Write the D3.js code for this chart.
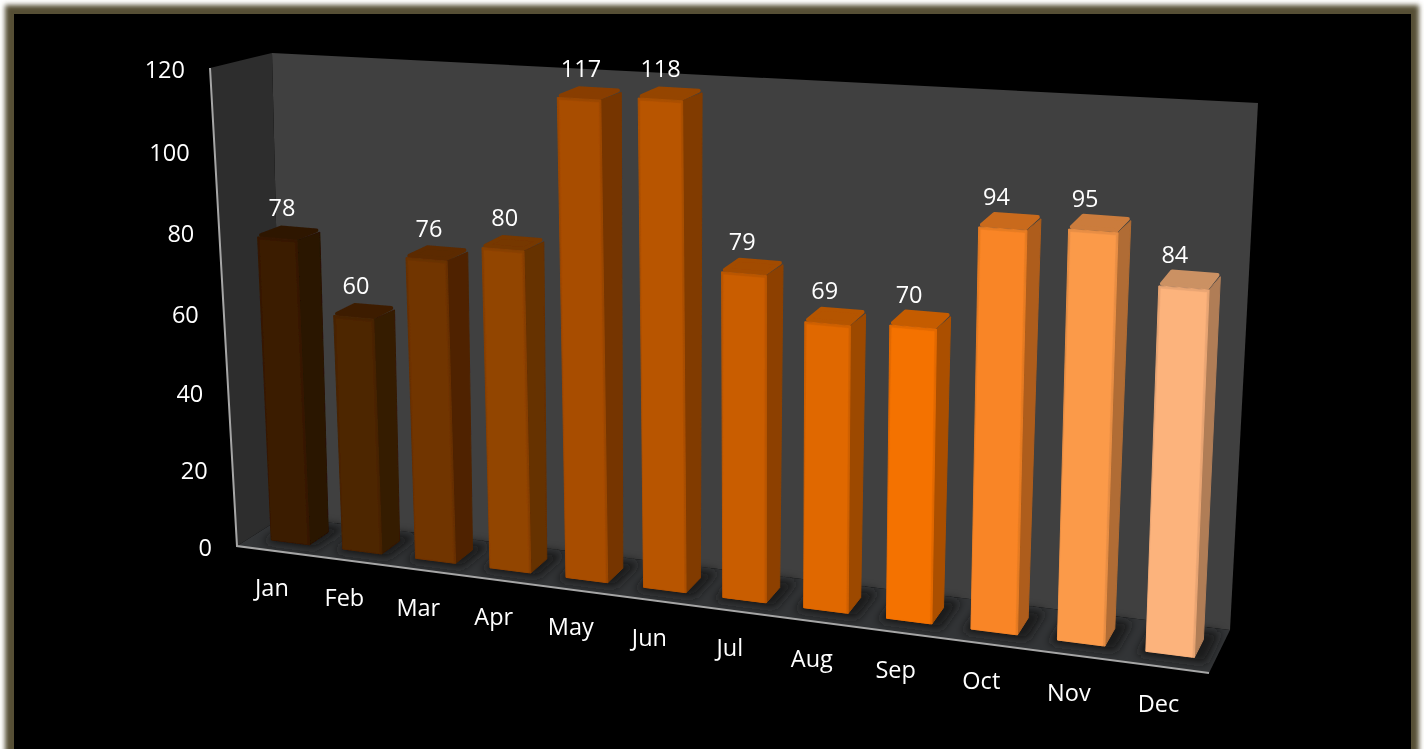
<!DOCTYPE html>
<html>
<head>
<meta charset="utf-8">
<title>Monthly bars</title>
<script src="https://cdn.jsdelivr.net/npm/d3@7"></script>
<style>
html, body { margin: 0; padding: 0; background: #fff; overflow: hidden; }
text { font-family: "Open Sans", "Noto Sans", sans-serif; font-size: 23.5px; fill: #fff; }
</style>
</head>
<body>
<svg id="chart" width="1424" height="749"></svg>
<script>
const categories = ["Jan", "Feb", "Mar", "Apr", "May", "Jun", "Jul", "Aug", "Sep", "Oct", "Nov", "Dec"];
const values = [78, 60, 76, 80, 117, 118, 79, 69, 70, 94, 95, 84];
const tickLabels = [0, 20, 40, 60, 80, 100, 120];
const barColors = ["#3a1b02", "#4d2502", "#713403", "#924403", "#a84d04", "#b85503", "#c95d05", "#e06805", "#f47206", "#f98526", "#fb9a4a", "#fcb37c"];

// corners of the box on screen, order is top-left, top-right, bottom-right, bottom-left
const frontPlane = [[210, 68], [1229, 133], [1209, 673], [237, 546]];
const backPlane = [[272, 53], [1258, 103], [1230, 630], [283, 517]];

// unit square to quad
function quadMap(q) {
	const [p0, p1, p2, p3] = q;
	const dx1 = p1[0] - p2[0], dx2 = p3[0] - p2[0], sx = p0[0] - p1[0] + p2[0] - p3[0];
	const dy1 = p1[1] - p2[1], dy2 = p3[1] - p2[1], sy = p0[1] - p1[1] + p2[1] - p3[1];
	const det = dx1 * dy2 - dx2 * dy1;
	const g = (sx * dy2 - dx2 * sy) / det;
	const h = (dx1 * sy - sx * dy1) / det;
	const a = p1[0] - p0[0] + g * p1[0], b = p3[0] - p0[0] + h * p3[0], c = p0[0];
	const d = p1[1] - p0[1] + g * p1[1], e = p3[1] - p0[1] + h * p3[1], f = p0[1];
	return function(u, v) {
		const w = g * u + h * v + 1;
		return [(a * u + b * v + c) / w, (d * u + e * v + f) / w];
	};
}

const frontMap = quadMap(frontPlane);
const backMap = quadMap(backPlane);

const xScale = d3.scaleBand().domain(categories).range([0.005, 1]).paddingInner(0.46).paddingOuter(0.23);
const yScale = d3.scaleLinear().domain([0, 120]).range([1, 0]);
const depth = { front: 0.3, back: 0.72 };

// u across, value up, d from front to back wall
function project(u, value, d) {
	const a = frontMap(u, yScale(value));
	const b = backMap(u, yScale(value));
	return [a[0] + (b[0] - a[0]) * d, a[1] + (b[1] - a[1]) * d];
}

const poly = function(pts) { return pts.map(function(p) { return p[0].toFixed(1) + "," + p[1].toFixed(1); }).join(" "); };
const midBand = function(c) { return xScale(c) + xScale.bandwidth() / 2; };

const svg = d3.select("#chart");
const defs = svg.append("defs");
defs.append("filter").attr("id", "edge").attr("x", "-5%").attr("y", "-5%").attr("width", "110%").attr("height", "110%")
	.append("feGaussianBlur").attr("stdDeviation", 2.6);
defs.append("filter").attr("id", "soft").attr("x", "-40%").attr("y", "-40%").attr("width", "180%").attr("height", "180%")
	.append("feGaussianBlur").attr("stdDeviation", 5);
defs.append("filter").attr("id", "tiny").attr("x", "-5%").attr("y", "-5%").attr("width", "110%").attr("height", "110%")
	.append("feGaussianBlur").attr("stdDeviation", 0.5);

// frame
svg.append("rect").attr("x", 5).attr("y", 5).attr("width", 1414).attr("height", 800).attr("fill", "#575034").attr("filter", "url(#edge)");
svg.append("rect").attr("x", 14).attr("y", 14).attr("width", 1397).attr("height", 740).attr("fill", "#000");

// walls and floor
const walls = svg.append("g");
walls.append("polygon").attr("fill", "#404040")
	.attr("points", poly([project(0, 120, 1), project(1, 120, 1), project(1, 0, 1), project(0, 0, 1)]));
walls.append("polygon").attr("fill", "#2d2d2d")
	.attr("points", poly([project(0, 120, 0), project(0, 120, 1), project(0, 0, 1), project(0, 0, 0)]));
walls.append("polygon").attr("fill", "#333537")
	.attr("points", poly([project(0, 0, 0), project(0, 0, 1), project(1, 0, 1), project(1, 0, 0)]));

// soft shadows on the floor round each bar
const shadows = walls.append("g").attr("filter", "url(#soft)");
categories.forEach(function(c) {
	const u0 = xScale(c) - 0.006, u1 = xScale(c) + xScale.bandwidth() + 0.012;
	shadows.append("polygon").attr("fill", "#191919").attr("opacity", 0.9)
		.attr("points", poly([project(u0, 0, 0.2), project(u0, 0, 0.92), project(u1, 0, 0.92), project(u1, 0, 0.2)]));
});

// axis lines
const axisLine = d3.line();
svg.append("path").attr("fill", "none").attr("stroke", "#a6a6a6").attr("stroke-width", 2)
	.attr("d", axisLine([project(0, 120, 0), project(0, 0, 0), project(1, 0, 0)]));

// bars, the top gets thick round strokes so the corners look bevelled
const bars = svg.append("g").attr("filter", "url(#tiny)");
categories.forEach(function(c, i) {
	const v = values[i];
	const u0 = xScale(c), u1 = u0 + xScale.bandwidth();
	const d0 = depth.front, d1 = depth.back;
	const col = d3.color(barColors[i]);
	const g = bars.append("g").attr("stroke-linejoin", "round");
	const face = function(pts, fill, sw) {
		g.append("polygon").attr("points", poly(pts)).attr("fill", fill).attr("stroke", fill).attr("stroke-width", sw);
	};
	const du = 0.002, dd = 0.03, vb = 0.3;
	face([project(u0 + du, v, d0 + dd), project(u0 + du, v, d1 - dd), project(u1 - du, v, d1 - dd), project(u1 - du, v, d0 + dd)], col.darker(0.6), 4);
	face([project(u1, 0, d0), project(u1, 0, d1), project(u1, v - vb * 2, d1), project(u1, v - vb, d0)], col.darker(1.0), 1);
	face([project(u0, 0, d0), project(u1, 0, d0), project(u1, v - vb, d0), project(u0, v - vb, d0)], col.darker(0.22), 1);
	face([project(u0, 0, d0), project(u1 - du, 0, d0), project(u1 - du, v - vb * 3, d0), project(u0 + du, v - vb * 3, d0)], col, 0.5);
});

// value axis labels
svg.append("g").selectAll("text")
	.data(tickLabels)
	.enter().append("text")
	.attr("text-anchor", "end")
	.attr("dy", "0.35em")
	.attr("x", function(d) { return project(0, d, 0)[0] - 25; })
	.attr("y", function(d) { return project(0, d, 0)[1] + 2; })
	.text(function(d) { return d; });

// month labels
svg.append("g").selectAll("text")
	.data(categories)
	.enter().append("text")
	.attr("text-anchor", "middle")
	.attr("dy", "0.35em")
	.attr("x", function(d) { return project(midBand(d), 0, 0)[0] - 5; })
	.attr("y", function(d) { return project(midBand(d), 0, 0)[1] + 37; })
	.text(function(d) { return d; });

// data labels
svg.append("g").selectAll("text")
	.data(categories)
	.enter().append("text")
	.attr("text-anchor", "middle")
	.attr("dy", "0.35em")
	.attr("x", function(d, i) { return project(midBand(d), values[i] / 2, depth.front)[0] - 2; })
	.attr("y", function(d, i) { return project(midBand(d), values[i], 0.5)[1] - 25; })
	.text(function(d, i) { return values[i]; });
</script>
</body>
</html>
